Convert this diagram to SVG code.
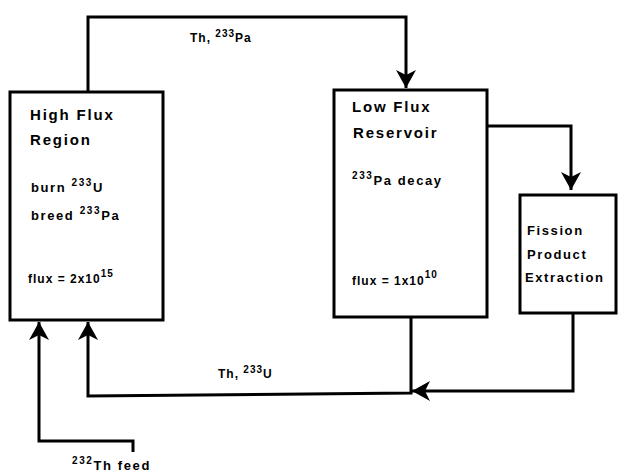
<svg xmlns="http://www.w3.org/2000/svg" width="623" height="474" viewBox="0 0 623 474">
<defs>
<style>
.box{fill:#fff;stroke:#000;stroke-width:3}
.ln{fill:none;stroke:#000;stroke-width:3}
.t{font-family:"Liberation Sans",Arial,sans-serif;font-weight:bold;font-size:15px;letter-spacing:1.8px;fill:#000}
.s{font-family:"Liberation Sans",Arial,sans-serif;font-weight:bold;font-size:12px;letter-spacing:1px;fill:#000}
.m{font-family:"Liberation Sans",Arial,sans-serif;font-weight:bold;font-size:13px;letter-spacing:1.6px;fill:#000}
.sup{font-size:10px}
</style>
<marker id="ah" viewBox="0 0 18 20" refX="18" refY="10" markerWidth="18" markerHeight="20" markerUnits="userSpaceOnUse" orient="auto">
<path d="M0,0 L18,10 L0,20 L5,10 Z" fill="#000"/>
</marker>
</defs>
<rect width="623" height="474" fill="#fff"/>
<g id="connectors">
<path class="ln" d="M88,92 V17 H406 V88" marker-end="url(#ah)"/>
<path class="ln" d="M487,126 H571 V190" marker-end="url(#ah)"/>
<path class="ln" d="M573,313 V391 H412" marker-end="url(#ah)"/>
<path class="ln" d="M411,317 V393 L88,396 V322" marker-end="url(#ah)"/>
<path class="ln" d="M133,452 V441 H39 V322" marker-end="url(#ah)"/>
<text class="s" x="190" y="42">Th, <tspan class="sup" dy="-5">233</tspan><tspan dy="5">Pa</tspan></text>
<text class="s" x="218" y="378">Th, <tspan class="sup" dy="-5">233</tspan><tspan dy="5">U</tspan></text>
<text class="m" x="72" y="470"><tspan class="sup" dy="-6">232</tspan><tspan dy="6">Th feed</tspan></text>
</g>
<g id="high-flux">
<rect class="box" x="10" y="92" width="153" height="228"/>
<text class="t" x="30" y="120">High Flux</text>
<text class="t" x="30" y="145">Region</text>
<text class="m" x="31" y="192">burn <tspan class="sup" dy="-6">233</tspan><tspan dy="6">U</tspan></text>
<text class="m" x="31" y="220">breed <tspan class="sup" dy="-6">233</tspan><tspan dy="6">Pa</tspan></text>
<text class="s" x="28" y="283">flux = 2x10<tspan class="sup" dy="-6">15</tspan></text>
</g>
<g id="low-flux">
<rect class="box" x="334" y="90" width="153" height="227"/>
<text class="t" x="352" y="112">Low Flux</text>
<text class="t" x="353" y="138">Reservoir</text>
<text class="m" x="352" y="185"><tspan class="sup" dy="-6">233</tspan><tspan dy="6">Pa decay</tspan></text>
<text class="s" x="352" y="285">flux = 1x10<tspan class="sup" dy="-7">10</tspan></text>
</g>
<g id="fission">
<rect class="box" x="520" y="195" width="96" height="118"/>
<text class="m" x="527" y="235">Fission</text>
<text class="m" x="527" y="259">Product</text>
<text class="m" x="525" y="282" letter-spacing="0.6">Extraction</text>
</g>
</svg>
